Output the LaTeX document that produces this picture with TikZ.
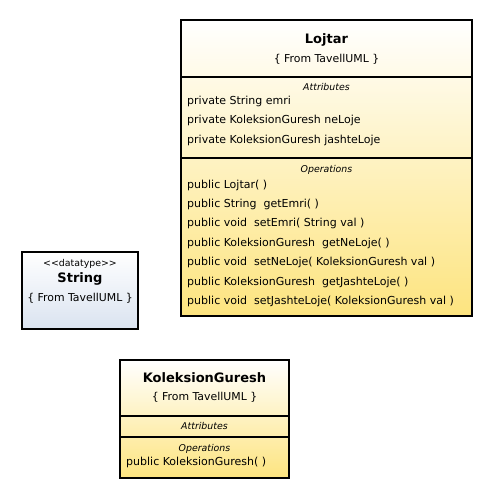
\documentclass[tikz,border=0pt]{standalone}
\usepackage{fontspec}
\setmainfont{DejaVu Sans}
\definecolor{classbot}{RGB}{253,228,127}
\definecolor{typebot}{RGB}{218,227,240}
\begin{document}
\begin{tikzpicture}[x = 1pt, y = -1pt,
    frame/.style = {draw, line width = 1.1pt},
    title/.style = {inner sep = 0pt, font = \fontsize{13}{14}\bfseries},
    from/.style = {inner sep = 0pt, font = \fontsize{10.9}{12}\selectfont},
    sect/.style = {inner sep = 0pt, font = \fontsize{9.4}{10}\itshape},
    member/.style = {inner sep = 0pt, anchor = west, font = \fontsize{11}{12}\selectfont}]
  \useasboundingbox (0, 0) rectangle (499, 498);

  % Lojtar
  \shade[frame, top color = white, bottom color = classbot] (181, 20) rectangle (472, 316);
  \draw[line width = 1.1pt] (181, 77) -- (472, 77);
  \draw[line width = 1.1pt] (181, 158) -- (472, 158);
  \node[title] (lojtar) at (326.5, 40) {Lojtar};
  \node[from] (lojtarfrom) at (326.5, 59) {\{ From TavellUML \}};
  \node[sect] (lojtarattr) at (326.5, 87) {Attributes};
  \node[member] (emri) at (187, 101) {private String emri};
  \node[member] (neloje) at (187, 120.5) {private KoleksionGuresh neLoje};
  \node[member] (jashteloje) at (187, 140) {private KoleksionGuresh jashteLoje};
  \node[sect] (lojtarops) at (326.5, 170) {Operations};
  \node[member] (op1) at (187, 185) {public Lojtar(~)};
  \node[member] (op2) at (187, 204) {public String~~getEmri(~)};
  \node[member] (op3) at (187, 223.5) {public void~~setEmri( String val )};
  \node[member] (op4) at (187, 243) {public KoleksionGuresh~~getNeLoje(~)};
  \node[member] (op5) at (187, 262.5) {public void~~setNeLoje( KoleksionGuresh val )};
  \node[member] (op6) at (187, 282) {public KoleksionGuresh~~getJashteLoje(~)};
  \node[member] (op7) at (187, 301.5) {public void~~setJashteLoje( KoleksionGuresh val )};

  % String
  \shade[frame, top color = white, bottom color = typebot] (22, 252) rectangle (138, 329);
  \node[inner sep = 0pt, font = \fontsize{9.4}{10}\selectfont] (stereo) at (80, 264) {<{}<datatype>{}>};
  \node[title] (string) at (80, 279) {String};
  \node[from] (stringfrom) at (80, 298) {\{ From TavellUML \}};

  % KoleksionGuresh
  \shade[frame, top color = white, bottom color = classbot] (120, 360) rectangle (289, 478);
  \draw[line width = 1.1pt] (120, 416) -- (289, 416);
  \draw[line width = 1.1pt] (120, 437) -- (289, 437);
  \node[title] (koleksion) at (204.5, 378) {KoleksionGuresh};
  \node[from] (koleksionfrom) at (204.5, 397) {\{ From TavellUML \}};
  \node[sect] (koleksionattr) at (204.5, 426) {Attributes};
  \node[sect] (koleksionops) at (204.5, 449) {Operations};
  \node[member] (ctor) at (126, 462.5) {public KoleksionGuresh(~)};
\end{tikzpicture}
\end{document}
